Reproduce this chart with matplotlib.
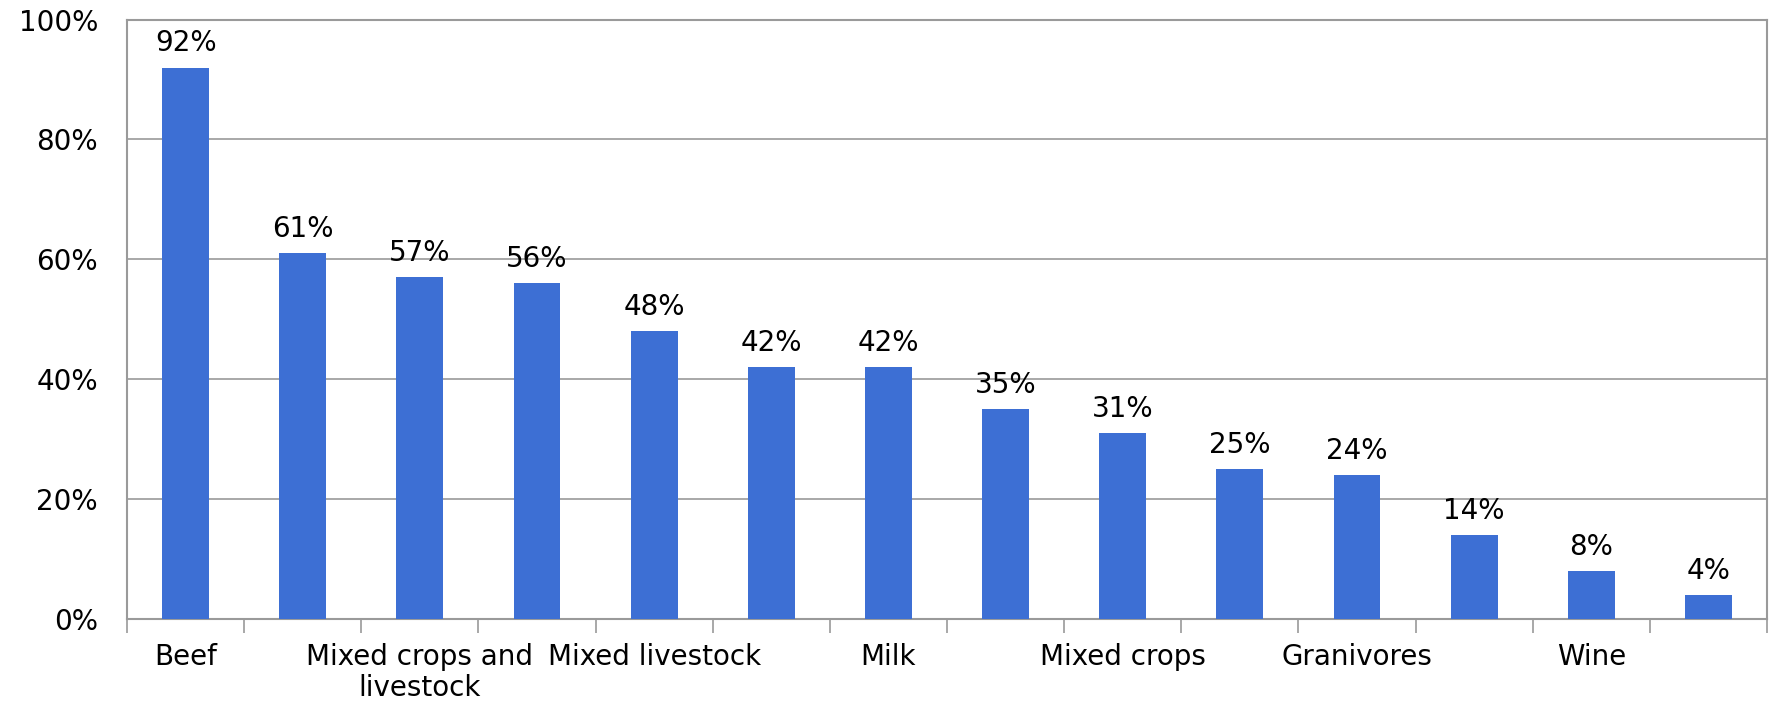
import numpy as np
import matplotlib.pyplot as plt
from matplotlib.ticker import FixedLocator, PercentFormatter

# Categories (only every other label is shown in the original chart)
categories = ['Beef', '', 'Mixed crops and\nlivestock', '', 'Mixed livestock', '',
              'Milk', '', 'Mixed crops', '', 'Granivores', '', 'Wine', '']
values = [92, 61, 57, 56, 48, 42, 42, 35, 31, 25, 24, 14, 8, 4]

bar_color = '#3D6FD4'
grid_color = '#9a9a9a'

plt.rcParams['font.family'] = ['DejaVu Sans']

fig = plt.figure(figsize=(17.72, 7.01), dpi=100)
ax = fig.add_axes([0.0717, 0.117, 0.9255, 0.855])

x = np.arange(len(values))
bars = ax.bar(x, values, width=0.4, color=bar_color, zorder=3)

for xi, v in zip(x, values):
    ax.annotate(f'{v}%', (xi, v), xytext=(0, 7.5), textcoords='offset points',
                ha='center', va='bottom', fontsize=20)

ax.set_xlim(-0.5, len(values) - 0.5)
ax.set_ylim(0, 100)
ax.set_yticks(np.arange(0, 101, 20))
ax.yaxis.set_major_formatter(PercentFormatter(decimals=0))
ax.yaxis.grid(True, color=grid_color, linewidth=1.2, zorder=0)
ax.tick_params(axis='y', length=0, pad=21, labelsize=20)

# category boundary ticks, labels at bar centres
ax.xaxis.set_major_locator(FixedLocator(np.arange(-0.5, len(values), 1.0)))
ax.set_xticklabels([])
ax.set_xticks(x, minor=True)
ax.set_xticklabels(categories, minor=True, fontsize=20, linespacing=1.15)
ax.tick_params(axis='x', which='major', length=10, width=1.2, color=grid_color, direction='out')
ax.tick_params(axis='x', which='minor', length=0, pad=17)

for side in ['top', 'right', 'bottom', 'left']:
    ax.spines[side].set_color(grid_color)
    ax.spines[side].set_linewidth(1.5)

fig.savefig('out.png', dpi=100)
